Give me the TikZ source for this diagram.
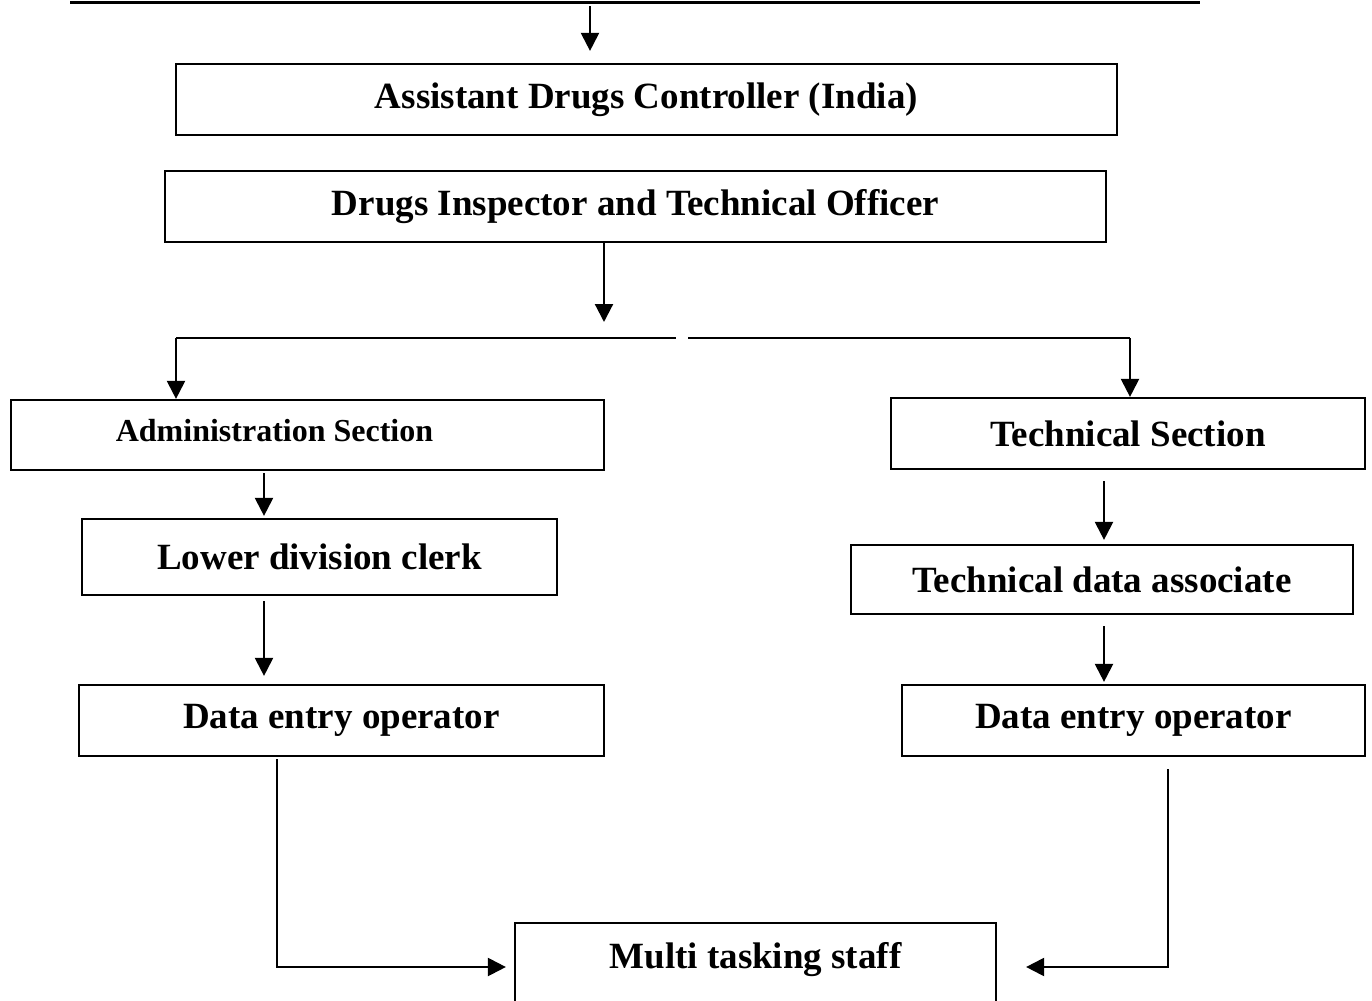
\documentclass[tikz,border=0pt]{standalone}
\usepackage{fontspec}
\setmainfont{Liberation Serif}
\usetikzlibrary{arrows.meta}
\tikzset{
  postbox/.style={thick, shape=rectangle, draw=black, line width=1.1pt, inner sep=0pt,
    font=\fontsize{18.5}{22}\selectfont\bfseries},
  flowarrow/.style={line width=1.1pt, -{Triangle[length=9pt,width=9pt]}},
}
\begin{document}
\begin{tikzpicture}[x=0.5pt, y=-0.5pt]
\useasboundingbox (0,0) rectangle (1372,1001);
% top rule and first arrow
\coordinate (ruleL) at (70,2);
\coordinate (ruleR) at (1200,2);
\draw[line width=1.5pt] (ruleL) -- (ruleR);
\coordinate (top0) at (590,6);
% boxes
\node[postbox, minimum width=470.5pt, minimum height=35.5pt] (adc) at (646.5,99.5) {Assistant Drugs Controller (India)};
\node[postbox, minimum width=470.5pt, minimum height=35.5pt] (dito) at (635.5,206.5) {Drugs Inspector and Technical Officer};
\node[postbox, minimum width=296.5pt, minimum height=35pt,
  label={[xshift=-16.5pt, yshift=2pt, font=\fontsize{16}{19}\selectfont\bfseries]center:Administration Section}] (admin) at (307.5,435) {};
\node[postbox, minimum width=237pt, minimum height=35.5pt] (tech) at (1128,433.5) {Technical Section};
\node[postbox, minimum width=237.5pt, minimum height=38pt] (ldc) at (319.5,557) {Lower division clerk};
\node[postbox, minimum width=262.5pt, minimum height=35.5pt] (deoL) at (341.5,720.5) {Data entry operator};
\node[postbox, minimum width=251pt, minimum height=34.5pt] (tda) at (1102,579.5) {Technical data associate};
\node[postbox, minimum width=231.5pt, minimum height=35.5pt] (deoR) at (1133.5,720.5) {Data entry operator};
\node[postbox, minimum width=240.5pt, minimum height=44pt,
  label={[yshift=3.5pt, font=\fontsize{18.5}{22}\selectfont\bfseries]center:Multi tasking staff}] (mts) at (755.5,967) {};
% branch line
\coordinate (hub) at (604,338);
\coordinate (brL) at (176,338);
\coordinate (brR) at (1130,338);
\coordinate (gapL) at (676,338);
\coordinate (gapR) at (688,338);
\draw[line width=1.1pt] (brL) -- (gapL);
\draw[line width=1.1pt] (gapR) -- (brR);
% downward arrows
\coordinate (colL) at (264,0);
\coordinate (colR) at (1104,0);
\coordinate (dropL) at (277,0);
\coordinate (dropR) at (1168,0);
\draw[flowarrow, shorten >=6pt] (top0) -- (top0 |- adc.north);
\draw[flowarrow] (dito.south -| hub) -- ([yshift=8pt]hub);
\draw[flowarrow] (brL) -- (brL |- admin.north);
\draw[flowarrow] (brR) -- (brR |- tech.north);
\draw[flowarrow, shorten <=1pt, shorten >=1pt] (admin.south -| colL) -- (ldc.north -| colL);
\draw[flowarrow, shorten <=2.5pt, shorten >=4pt] (ldc.south -| colL) -- (deoL.north -| colL);
\draw[flowarrow, shorten <=5.5pt, shorten >=2pt] (tech.south -| colR) -- (tda.north -| colR);
\draw[flowarrow, shorten <=5.5pt, shorten >=1pt] (tda.south -| colR) -- (deoR.north -| colR);
% into the multi tasking staff
\draw[flowarrow, shorten <=1pt, shorten >=4pt] (deoL.south -| dropL) |- (mts.west);
\draw[flowarrow, shorten <=6pt, shorten >=14.5pt] (deoR.south -| dropR) |- (mts.east);
\end{tikzpicture}
\end{document}
